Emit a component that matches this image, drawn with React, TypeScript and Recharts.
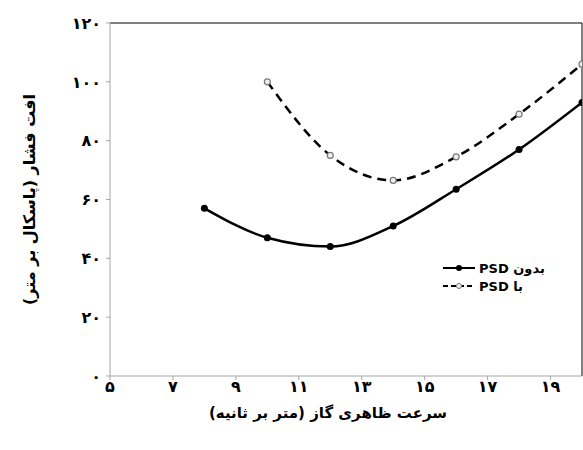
import React from 'react';
import {
  LineChart,
  Line,
  XAxis,
  YAxis,
  Legend,
  ReferenceLine,
  Label
} from 'recharts';

const velocity = [8, 10, 12, 14, 16, 18, 20];
const withoutPsd = [57, 47, 44, 51, 63.5, 77, 93];
const withPsd = [null, 100, 75, 66.5, 74.5, 89, 106];

const xTicks = [5, 7, 9, 11, 13, 15, 17, 19];
const yTicks = [0, 20, 40, 60, 80, 100, 120];

const seriesNames = {
  without: 'بدون PSD',
  with: 'با PSD'
};

const xTitle = 'سرعت ظاهری گاز (متر بر ثانیه)';
const yTitle = 'افت فشار (پاسکال بر متر)';

const data = velocity.map((v, i) => ({
  v,
  without: withoutPsd[i],
  with: withPsd[i]
}));

const FONT = '"DejaVu Sans", sans-serif';
const persianDigits = '۰۱۲۳۴۵۶۷۸۹';
const toFa = (n: number) =>
  String(n).replace(/[0-9]/g, (d) => persianDigits[Number(d)]);

const tickStyle = { fontFamily: FONT, fontSize: 16, fontWeight: 700, fill: '#000' };

function SolidDot(props: any) {
  const { cx, cy } = props;
  if (cx == null || cy == null) return null;
  return <circle cx={cx} cy={cy} r={3.5} fill="#000" />;
}

function HollowDot(props: any) {
  const { cx, cy } = props;
  if (cx == null || cy == null) return null;
  return <circle cx={cx} cy={cy} r={3} fill="#eee" stroke="#777" strokeWidth={1.2} />;
}

function renderLegend() {
  const items = [
    { name: seriesNames.without, dash: undefined, hollow: false },
    { name: seriesNames.with, dash: '5 3', hollow: true }
  ];
  return (
    <div style={{ fontFamily: FONT, fontSize: 13, fontWeight: 700 }}>
      {items.map((it) => (
        <div key={it.name} style={{ display: 'flex', alignItems: 'center', height: 18 }}>
          <svg width={34} height={10} style={{ marginRight: 3 }}>
            <line x1={1} y1={5} x2={33} y2={5} stroke="#000" strokeWidth={2} strokeDasharray={it.dash} />
            {it.hollow ? (
              <circle cx={17} cy={5} r={2.5} fill="#eee" stroke="#777" />
            ) : (
              <circle cx={17} cy={5} r={3} fill="#000" />
            )}
          </svg>
          <span dir="rtl">{it.name}</span>
        </div>
      ))}
    </div>
  );
}

export default function App() {
  return (
    <div style={{ position: 'absolute', left: 0, top: 0, background: '#fff' }}>
      <LineChart
        width={583}
        height={450}
        data={data}
        margin={{ top: 23, right: 1, left: 0, bottom: 0 }}
      >
        <XAxis
          dataKey="v"
          type="number"
          domain={[5, 20]}
          ticks={xTicks}
          allowDataOverflow
          height={74}
          stroke="#a6a6a6"
          tickSize={4}
          tickMargin={1}
          tick={tickStyle}
          tickFormatter={toFa}
        >
          <Label
            content={(p: any) => (
              <text
                x={p.viewBox.x + p.viewBox.width / 2 - 18}
                y={p.viewBox.y + 42}
                textAnchor="middle"
                direction="rtl"
                style={{ fontFamily: FONT, fontSize: 15, fontWeight: 700 }}
                fill="#000"
              >
                {xTitle}
              </text>
            )}
          />
        </XAxis>
        <YAxis
          type="number"
          domain={[0, 120]}
          ticks={yTicks}
          width={110}
          stroke="#a6a6a6"
          tickSize={4}
          tickMargin={5}
          tick={tickStyle}
          tickFormatter={toFa}
        >
          <Label
            content={(p: any) => {
              const cx = 29;
              const cy = p.viewBox.y + p.viewBox.height / 2;
              return (
                <text
                  x={cx}
                  y={cy}
                  transform={`rotate(-90 ${cx} ${cy})`}
                  textAnchor="middle"
                  dominantBaseline="central"
                  direction="rtl"
                  style={{ fontFamily: FONT, fontSize: 16, fontWeight: 700 }}
                  fill="#000"
                >
                  {yTitle}
                </text>
              );
            }}
          />
        </YAxis>
        <ReferenceLine y={120} stroke="#000" strokeWidth={1} ifOverflow="extendDomain" />
        <ReferenceLine x={20} stroke="#000" strokeWidth={1} ifOverflow="extendDomain" />
        <Legend
          content={renderLegend}
          layout="horizontal"
          verticalAlign="middle"
          align="center"
          wrapperStyle={{ left: 442, top: 259, width: 130 }}
        />
        <Line
          dataKey="without"
          name={seriesNames.without}
          type="monotone"
          stroke="#000"
          strokeWidth={2.5}
          dot={<SolidDot />}
          activeDot={false}
          isAnimationActive={false}
        />
        <Line
          dataKey="with"
          name={seriesNames.with}
          type="monotone"
          stroke="#000"
          strokeWidth={2.5}
          strokeDasharray="9 6"
          dot={<HollowDot />}
          activeDot={false}
          connectNulls={false}
          isAnimationActive={false}
        />
      </LineChart>
    </div>
  );
}
